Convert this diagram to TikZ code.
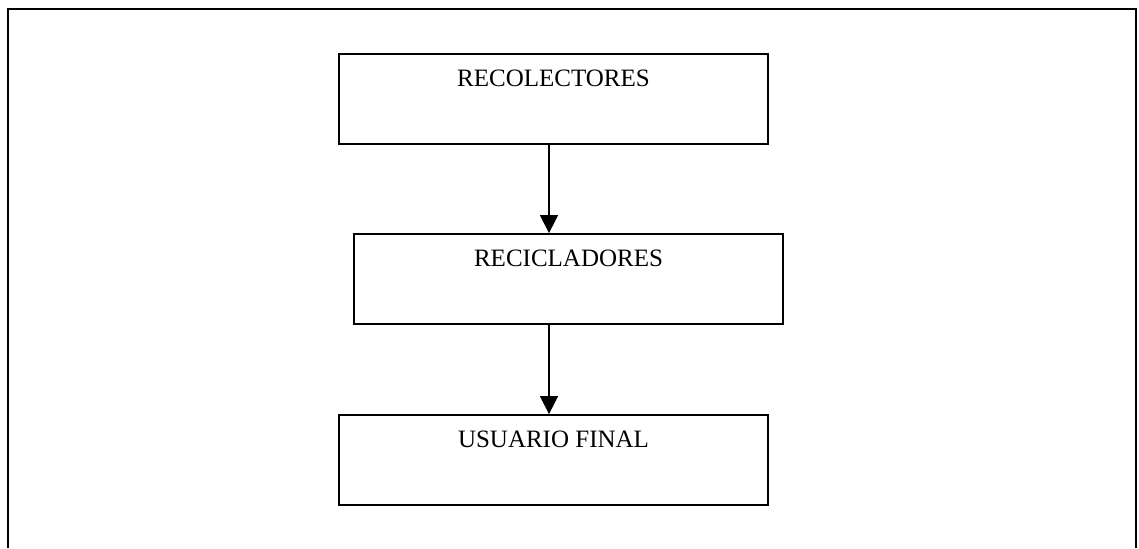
\documentclass[tikz,border=0pt]{standalone}
\usepackage{fontspec}
\setmainfont{Liberation Serif}
\usepackage{tikz}
\usetikzlibrary{arrows.meta,positioning}
\tikzset
{
    etapa/.style = {rectangle, draw=black, line width=0.9pt, align=center, minimum width=214.5pt, inner xsep=0pt, inner ysep=0pt, text height=16pt, text depth=29pt, font=\fontsize{12.5}{14}\selectfont},
    flecha/.style = {-{Triangle[length=9pt,width=9pt]}, line width=0.7pt},
    marco/.style  = {line width=1pt}
}

\begin{document}
\begin{tikzpicture}[x=0.5pt, y=-0.5pt]
    \useasboundingbox (0,0) rectangle (1139,548);
    % marco abierto por abajo
    \draw [marco] (7.5,548) -- (7.5,9) -- (1136,9) -- (1136,548);
    \node [etapa] (recolectores) at (553.5,99) {RECOLECTORES};
    \node [etapa] (recicladores) at (568.5,279) {RECICLADORES};
    \node [etapa] (usuario) at (553.5,460) {USUARIO FINAL};
    \coordinate (eje) at (549,0);
    \draw [flecha] (recolectores.south -| eje) -- (recicladores.north -| eje);
    \draw [flecha] (recicladores.south -| eje) -- (usuario.north -| eje);
\end{tikzpicture}
\end{document}
